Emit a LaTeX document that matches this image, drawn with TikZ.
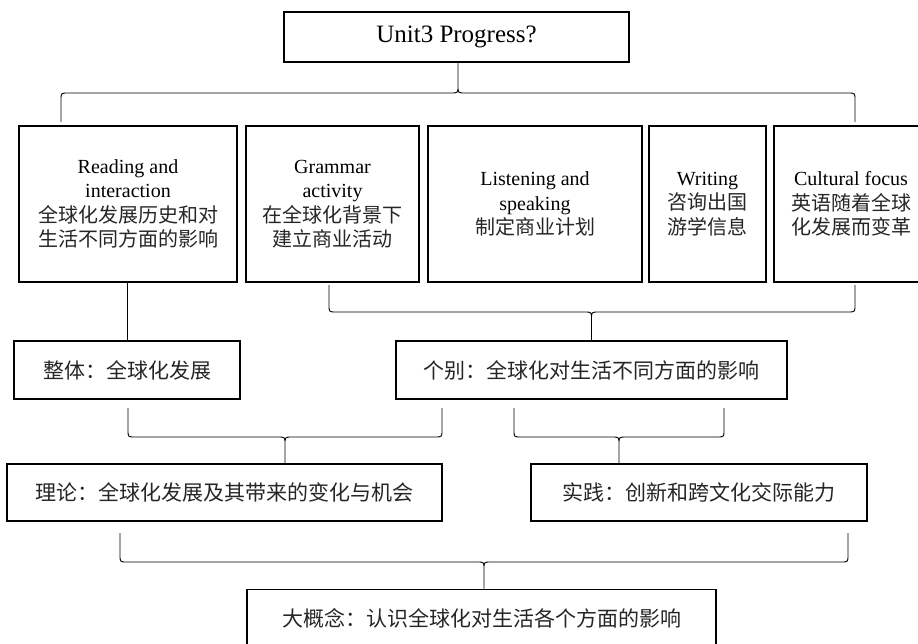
\documentclass[tikz,border=0pt]{standalone}
\usepackage{fontspec}
\setmainfont{Liberation Serif}
\newfontfamily\cjk{Noto Sans CJK SC}
\usetikzlibrary{calc}
\newcommand\zh[1]{{\cjk\color{black!85}#1}}
\tikzset{
  box/.style={draw, line width=1.6pt, inner sep=0pt, align=center, text=black},
  upper/.style={font=\fontsize{20}{24.5}\selectfont},
  lower/.style={font=\fontsize{21}{25}\selectfont\cjk, text=black!85},
  bracestyle/.style={line width=0.9pt},
  link/.style={line width=0.9pt}
}
\newcommand\bracebetween[6]{%
  \draw[bracestyle] let \p1=(#1), \p2=(#2), \p3=(#3), \p4=(0,#4) in
    (\x1,\y1) -- (\x1,{\y4+(#5)*7pt}) .. controls (\x1,\y4) .. ({\x1+7pt},\y4)
    -- ({\x3-7pt},\y4) .. controls (\x3,\y4) .. (\x3,{\y4+(#6)*7pt}) -- (\x3,\y3)
    (\x3,{\y4+(#6)*7pt}) .. controls (\x3,\y4) .. ({\x3+7pt},\y4)
    -- ({\x2-7pt},\y4) .. controls (\x2,\y4) .. (\x2,{\y4+(#5)*7pt}) -- (\x2,\y2);
}
\begin{document}
\begin{tikzpicture}[x=1pt,y=-1pt]
\useasboundingbox (0,0) rectangle (918,644);
\fill[white] (0,0) rectangle (918,644);
\clip (0,0) rectangle (918,644);

% boxes
\node[box, minimum width=345pt, minimum height=50pt, font=\fontsize{25}{30}\selectfont] (top) at (456.5,37) {Unit3 Progress?};

\node[box, upper, minimum width=218pt, minimum height=156pt] (b1) at (128,204)
  {Reading and\\interaction\\\zh{全球化发展历史和对}\\\zh{生活不同方面的影响}};
\node[box, upper, minimum width=173pt, minimum height=156pt] (b2) at (332.5,204)
  {Grammar\\activity\\\zh{在全球化背景下}\\\zh{建立商业活动}};
\node[box, upper, minimum width=214pt, minimum height=156pt] (b3) at (535,204)
  {Listening and\\speaking\\\zh{制定商业计划}};
\node[box, upper, minimum width=117pt, minimum height=156pt] (b4) at (707.5,204)
  {Writing\\\zh{咨询出国}\\\zh{游学信息}};
\node[box, upper, minimum width=154pt, minimum height=156pt] (b5) at (851,204)
  {Cultural focus\\\zh{英语随着全球}\\\zh{化发展而变革}};

\node[box, lower, minimum width=226pt, minimum height=58pt] (whole) at (127,370) {整体：全球化发展};
\node[box, lower, minimum width=391pt, minimum height=58pt] (indiv) at (591.5,370) {个别：全球化对生活不同方面的影响};
\node[box, lower, minimum width=435pt, minimum height=57pt] (theory) at (224.5,492.5) {理论：全球化发展及其带来的变化与机会};
\node[box, lower, minimum width=336pt, minimum height=57pt] (practice) at (699,492.5) {实践：创新和跨文化交际能力};
\node[box, lower, minimum width=469pt, minimum height=57pt] (big) at (481.5,618) {大概念：认识全球化对生活各个方面的影响};

% connector from Reading box to 整体
\draw[link] (whole.north) -- (whole.north |- b1.south);

% brace end points and tips
\coordinate (br1l) at (61,122);  \coordinate (br1r) at (855,122);
\coordinate (br1t) at ($(top.south)+(1.5,0)$);
\coordinate (br2l) at (329,285); \coordinate (br2r) at (855,285);
\coordinate (br2t) at (indiv.north);
\coordinate (br3l) at (128,408); \coordinate (br3r) at (442,408);
\coordinate (br3t) at ($(theory.north)+(60.5,0)$);
\coordinate (br4l) at (514,408); \coordinate (br4r) at (724,408);
\coordinate (br4t) at ($(practice.north)+(-80,0)$);
\coordinate (br5l) at (120,533); \coordinate (br5r) at (848,533);
\coordinate (br5t) at ($(big.north)+(2.5,0)$);

\bracebetween{br1l}{br1r}{br1t}{93}{-1}{1}
\bracebetween{br2l}{br2r}{br2t}{312}{1}{-1}
\bracebetween{br3l}{br3r}{br3t}{437}{1}{-1}
\bracebetween{br4l}{br4r}{br4t}{437}{1}{-1}
\bracebetween{br5l}{br5r}{br5t}{562}{1}{-1}
\end{tikzpicture}
\end{document}
